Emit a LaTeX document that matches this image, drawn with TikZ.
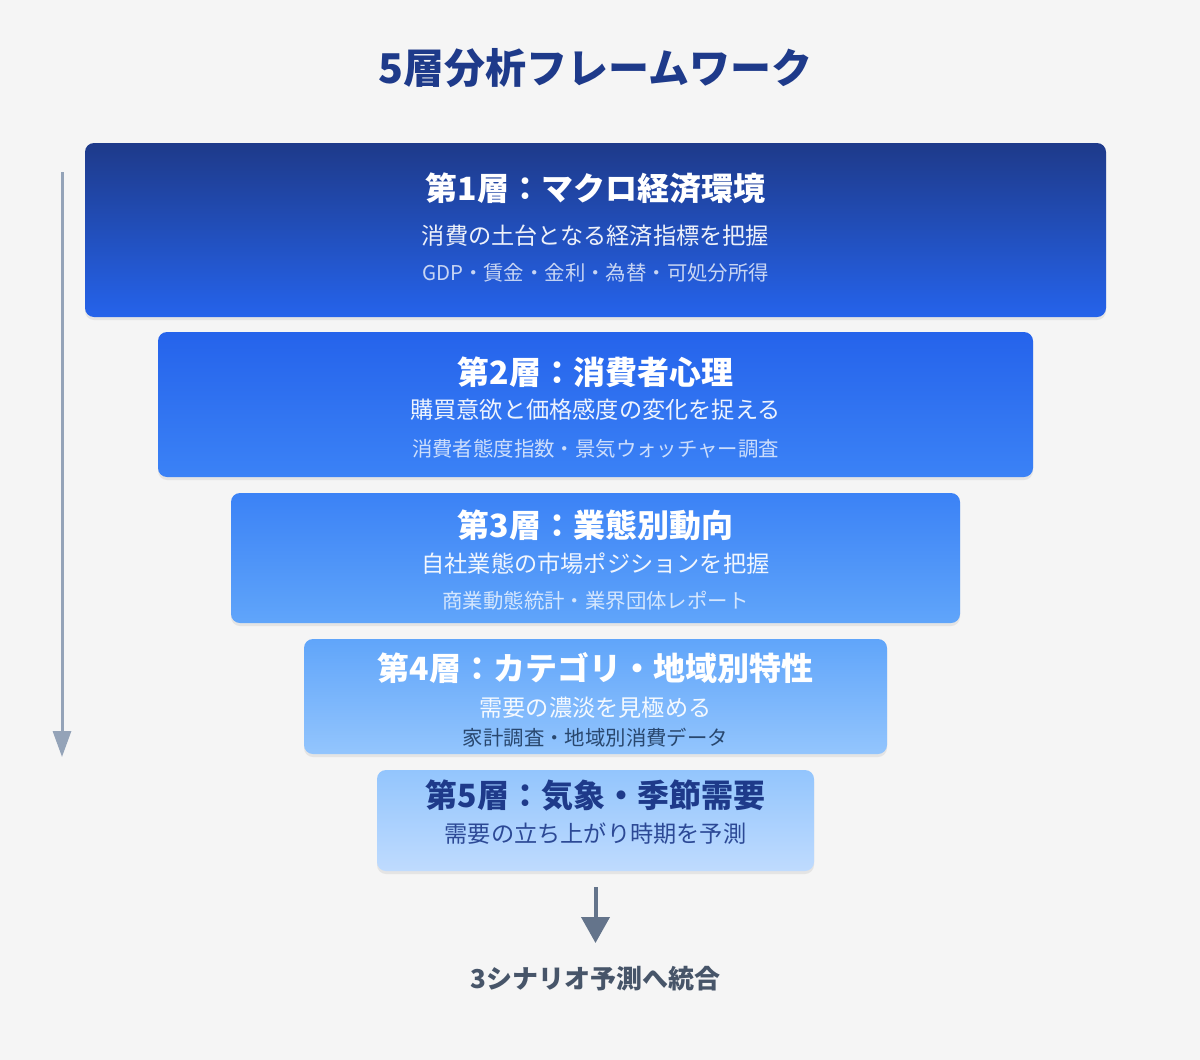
\documentclass[tikz,border=0pt]{standalone}
\usepackage{fontspec}
\setmainfont{Noto Sans CJK JP}
\usetikzlibrary{arrows.meta,shadows}

\definecolor{pagebg}{HTML}{F5F5F5}
\definecolor{navy}{HTML}{1E3A8A}
\definecolor{deepnavy}{HTML}{1E3A5F}
\definecolor{blueA}{HTML}{1E3A8A}
\definecolor{blueB}{HTML}{2563EB}
\definecolor{blueC}{HTML}{3B82F6}
\definecolor{blueD}{HTML}{60A5FA}
\definecolor{blueE}{HTML}{93C5FD}
\definecolor{blueF}{HTML}{BFDBFE}
\definecolor{slateline}{HTML}{94A3B8}
\definecolor{slatearrow}{HTML}{64748B}
\definecolor{slatetext}{HTML}{475569}

\newcommand{\headfont}{\fontsize{32}{38}\selectfont\bfseries}
\newcommand{\subfont}{\fontsize{23.2}{28}\selectfont}
\newcommand{\detailfont}{\fontsize{20.4}{24}\selectfont}

\begin{document}
\begin{tikzpicture}[x=1pt,y=-1pt,
		layer/.style={rounded corners=9pt, inner sep=0pt,
			drop shadow={opacity=0.14, shadow xshift=0pt, shadow yshift=-3pt}},
		head/.style={text=white, font=\headfont, inner sep=0pt},
		sub/.style={text=white, text opacity=0.92, font=\subfont, inner sep=0pt},
		detail/.style={text=white, text opacity=0.75, font=\detailfont, inner sep=0pt}]
		% background
		\fill[pagebg] (0,0) rectangle (1200,1060);
		\useasboundingbox (0,0) rectangle (1200,1060);

		\node[text=navy, font=\fontsize{41}{46}\selectfont\bfseries, inner sep=0pt] (title) at (595.5,68) {5層分析フレームワーク};

		% side arrow
		\coordinate (sidetop) at (62,172);
		\coordinate (sidebot) at (62,757);
		\draw[slateline, line width=3pt, -{Triangle[width=18pt,length=26pt]}] (sidetop) -- (sidebot);

		% layer 1
		\node[layer, top color=blueA, bottom color=blueB, minimum width=1021pt, minimum height=174pt] (l1) at (595.5,230) {};
		\node[head] (l1head) at (595.5,188) {第1層：マクロ経済環境};
		\node[sub] (l1sub) at (595.5,236) {消費の土台となる経済指標を把握};
		\node[detail] (l1detail) at (595.5,273) {GDP・賃金・金利・為替・可処分所得};

		% layer 2
		\node[layer, top color=blueB, bottom color=blueC, minimum width=875pt, minimum height=145pt] (l2) at (595.5,404.5) {};
		\node[head] (l2head) at (595.5,372) {第2層：消費者心理};
		\node[sub] (l2sub) at (595.5,410) {購買意欲と価格感度の変化を捉える};
		\node[detail] (l2detail) at (595.5,449) {消費者態度指数・景気ウォッチャー調査};

		% layer 3
		\node[layer, top color=blueC, bottom color=blueD, minimum width=729pt, minimum height=130pt] (l3) at (595.5,558) {};
		\node[head] (l3head) at (595.5,525) {第3層：業態別動向};
		\node[sub] (l3sub) at (595.5,564) {自社業態の市場ポジションを把握};
		\node[detail] (l3detail) at (595.5,601) {商業動態統計・業界団体レポート};

		% layer 4
		\node[layer, top color=blueD, bottom color=blueE, minimum width=583pt, minimum height=115pt] (l4) at (595.5,696.5) {};
		\node[head] (l4head) at (595.5,668) {第4層：カテゴリ・地域別特性};
		\node[sub] (l4sub) at (595.5,708) {需要の濃淡を見極める};
		\node[detail, text=deepnavy, text opacity=0.9] (l4detail) at (595.5,738) {家計調査・地域別消費データ};

		% layer 5
		\node[layer, top color=blueE, bottom color=blueF, minimum width=437pt, minimum height=101pt] (l5) at (595.5,820.5) {};
		\node[head, text=navy] (l5head) at (595.5,795) {第5層：気象・季節需要};
		\node[sub, text=navy, text opacity=0.9] (l5sub) at (595.5,834) {需要の立ち上がり時期を予測};

		% result
		\node[text=slatetext, font=\fontsize{26}{30}\selectfont\bfseries, inner sep=0pt] (result) at (595.5,979) {3シナリオ予測へ統合};
		\coordinate (resultin) at (595.5,943);
		\draw[slatearrow, line width=4pt, shorten <=16pt, -{Triangle[width=28pt,length=26pt]}] (l5.south) -- (resultin);
	\end{tikzpicture}
\end{document}
